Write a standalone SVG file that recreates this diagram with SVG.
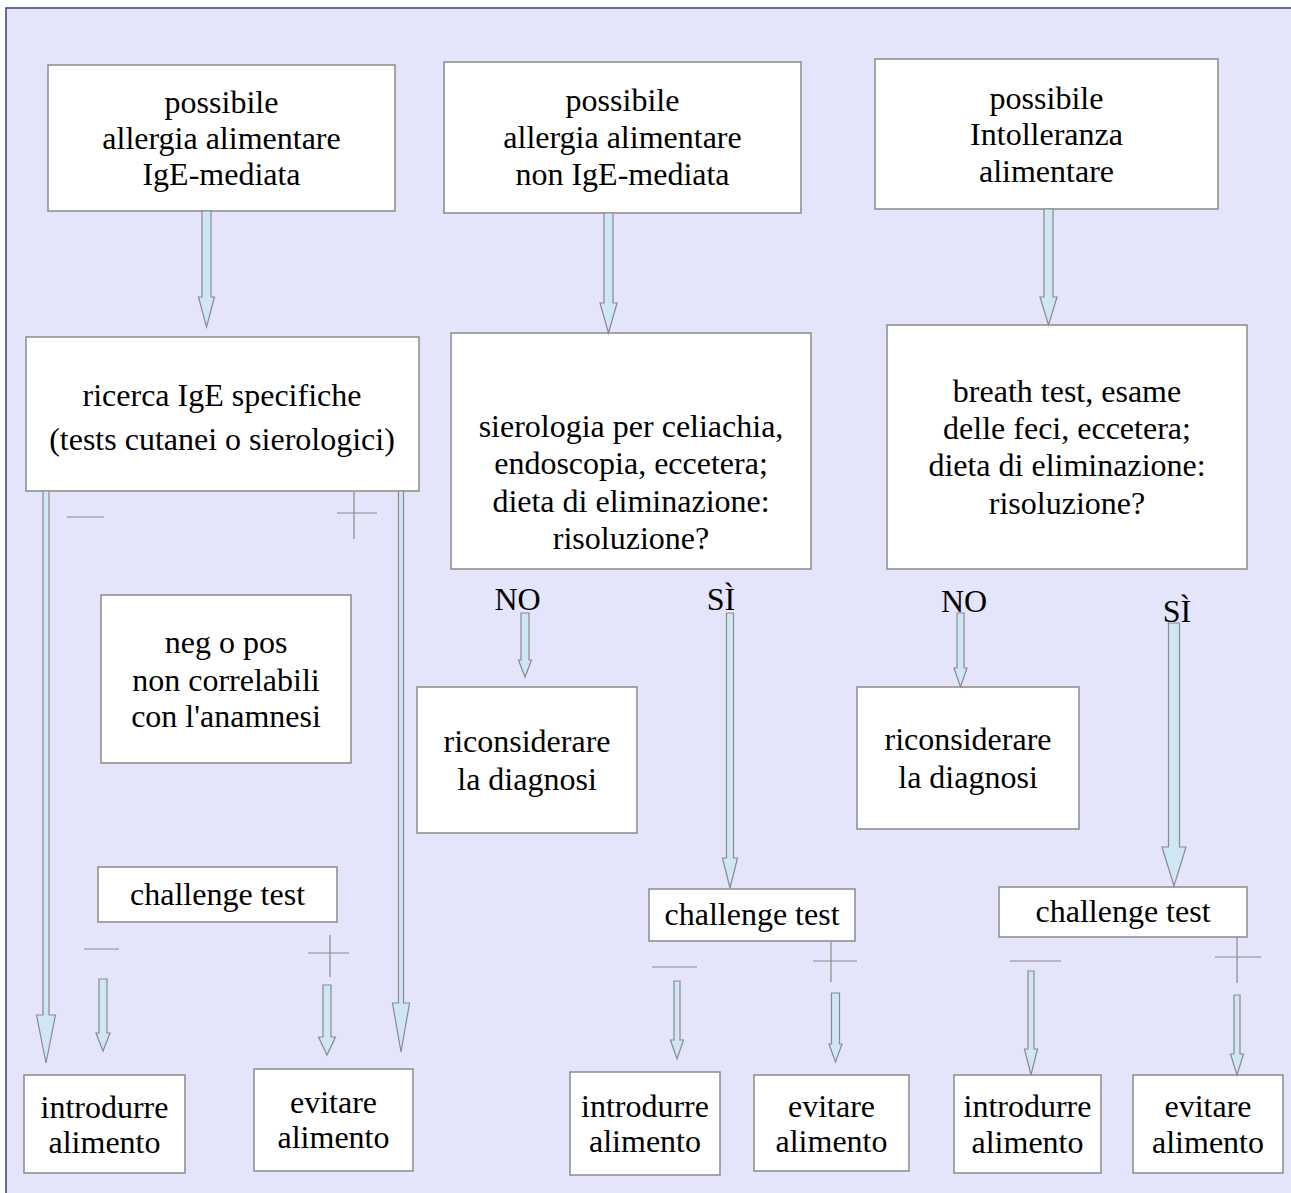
<svg xmlns="http://www.w3.org/2000/svg" width="1291" height="1193" viewBox="0 0 1291 1193">
<style>
.bg{fill:#e4e4fb;stroke:#3c3c7a;stroke-width:1.5}
.box{fill:#ffffff;stroke:#8a8a8a;stroke-width:1.5}
.arr{fill:#cfe7f5;stroke:#8a8a8a;stroke-width:1.2;stroke-linejoin:miter}
.sign{stroke:#8a8a8a;stroke-width:1.2;fill:none}
text{font-family:"Liberation Serif","Times New Roman",serif;font-size:32px;fill:#000;text-anchor:middle}
</style>
<rect class="bg" x="6" y="8" width="1300" height="1200"/>
<g id="n1"><rect class="box" x="48" y="65" width="347" height="146"/><text x="221.5" y="113">possibile</text><text x="221.5" y="149">allergia alimentare</text><text x="221.5" y="185">IgE-mediata</text></g>
<g id="n2"><rect class="box" x="26" y="337" width="393" height="154"/><text x="222" y="406">ricerca IgE specifiche</text><text x="222" y="450">(tests cutanei o sierologici)</text></g>
<g id="n3"><rect class="box" x="101" y="595" width="250" height="168"/><text x="226" y="653">neg o pos</text><text x="226" y="691">non correlabili</text><text x="226" y="727">con l'anamnesi</text></g>
<g id="n4"><rect class="box" x="98" y="867" width="239" height="55"/><text x="217.5" y="905">challenge test</text></g>
<g id="n5"><rect class="box" x="24" y="1075" width="161" height="98"/><text x="104.5" y="1118">introdurre</text><text x="104.5" y="1153">alimento</text></g>
<g id="n6"><rect class="box" x="254" y="1069" width="159" height="102"/><text x="333.5" y="1113">evitare</text><text x="333.5" y="1148">alimento</text></g>
<g id="n7"><rect class="box" x="444" y="62" width="357" height="151"/><text x="622.5" y="111">possibile</text><text x="622.5" y="148">allergia alimentare</text><text x="622.5" y="185">non IgE-mediata</text></g>
<g id="n8"><rect class="box" x="451" y="333" width="360" height="236"/><text x="631" y="437">sierologia per celiachia,</text><text x="631" y="474">endoscopia, eccetera;</text><text x="631" y="512">dieta di eliminazione:</text><text x="631" y="549">risoluzione?</text></g>
<g id="n9"><rect class="box" x="417" y="687" width="220" height="146"/><text x="527" y="752">riconsiderare</text><text x="527" y="790">la diagnosi</text></g>
<g id="n10"><rect class="box" x="649" y="889" width="206" height="52"/><text x="752" y="925">challenge test</text></g>
<g id="n11"><rect class="box" x="570" y="1072" width="150" height="103"/><text x="645" y="1117">introdurre</text><text x="645" y="1152">alimento</text></g>
<g id="n12"><rect class="box" x="754" y="1075" width="155" height="96"/><text x="831.5" y="1117">evitare</text><text x="831.5" y="1152">alimento</text></g>
<g id="n13"><rect class="box" x="875" y="59" width="343" height="150"/><text x="1046.5" y="109">possibile</text><text x="1046.5" y="145">Intolleranza</text><text x="1046.5" y="182">alimentare</text></g>
<g id="n14"><rect class="box" x="887" y="325" width="360" height="244"/><text x="1067" y="402">breath test, esame</text><text x="1067" y="439">delle feci, eccetera;</text><text x="1067" y="476">dieta di eliminazione:</text><text x="1067" y="514">risoluzione?</text></g>
<g id="n15"><rect class="box" x="857" y="687" width="222" height="142"/><text x="968" y="750">riconsiderare</text><text x="968" y="788">la diagnosi</text></g>
<g id="n16"><rect class="box" x="999" y="887" width="248" height="50"/><text x="1123" y="922">challenge test</text></g>
<g id="n17"><rect class="box" x="954" y="1075" width="147" height="98"/><text x="1027.5" y="1117">introdurre</text><text x="1027.5" y="1153">alimento</text></g>
<g id="n18"><rect class="box" x="1133" y="1075" width="150" height="98"/><text x="1208" y="1117">evitare</text><text x="1208" y="1153">alimento</text></g>
<g id="connectors">
<polygon class="arr" points="202,211 211,211 211,297 214.5,297 206.5,327 198.5,297 202,297"/>
<polygon class="arr" points="604,213 613,213 613,303 617,303 608.5,333 600,303 604,303"/>
<polygon class="arr" points="1044,209 1053,209 1053,297 1057,297 1048.5,325 1040,297 1044,297"/>
<polygon class="arr" points="43,491 49,491 49,1015 55.5,1015 46,1063 36.5,1015 43,1015"/>
<polygon class="arr" points="398.5,491 403.5,491 403.5,1003 409.5,1003 401,1052 392.5,1003 398.5,1003"/>
<polygon class="arr" points="99,979 107,979 107,1033 110,1033 103,1051 96,1033 99,1033"/>
<polygon class="arr" points="323,985 331,985 331,1037 335.5,1037 327,1055 318.5,1037 323,1037"/>
<polygon class="arr" points="521,613 529,613 529,660 531.5,660 525,677 518.5,660 521,660"/>
<polygon class="arr" points="726.5,613 733.5,613 733.5,858 737.5,858 730,888 722.5,858 726.5,858"/>
<polygon class="arr" points="957,613 964,613 964,668 967,668 960.5,687 954,668 957,668"/>
<polygon class="arr" points="1168.5,623 1179.5,623 1179.5,847 1186,847 1174,886 1162,847 1168.5,847"/>
<polygon class="arr" points="674,981 680,981 680,1040 683.5,1040 677,1059 670.5,1040 674,1040"/>
<polygon class="arr" points="831.5,993 839.5,993 839.5,1044 842,1044 835.5,1062 829,1044 831.5,1044"/>
<polygon class="arr" points="1028,971 1034,971 1034,1049 1037.5,1049 1031,1075 1024.5,1049 1028,1049"/>
<polygon class="arr" points="1234,995 1240,995 1240,1054 1243.5,1054 1237,1075 1230.5,1054 1234,1054"/>
<line class="sign" x1="67" y1="517" x2="104" y2="517"/>
<line class="sign" x1="337" y1="513" x2="377" y2="513"/>
<line class="sign" x1="354" y1="492" x2="354" y2="539"/>
<line class="sign" x1="84" y1="949" x2="119" y2="949"/>
<line class="sign" x1="308" y1="953" x2="349" y2="953"/>
<line class="sign" x1="330" y1="935" x2="330" y2="977"/>
<line class="sign" x1="652" y1="967" x2="697" y2="967"/>
<line class="sign" x1="813" y1="961" x2="857" y2="961"/>
<line class="sign" x1="831" y1="942" x2="831" y2="982"/>
<line class="sign" x1="1010" y1="961" x2="1061" y2="961"/>
<line class="sign" x1="1215" y1="957" x2="1261" y2="957"/>
<line class="sign" x1="1237" y1="937" x2="1237" y2="983"/>
<text x="517.5" y="610">NO</text>
<text x="721" y="610">SÌ</text>
<text x="964" y="612">NO</text>
<text x="1177" y="622">SÌ</text>
</g>
</svg>
